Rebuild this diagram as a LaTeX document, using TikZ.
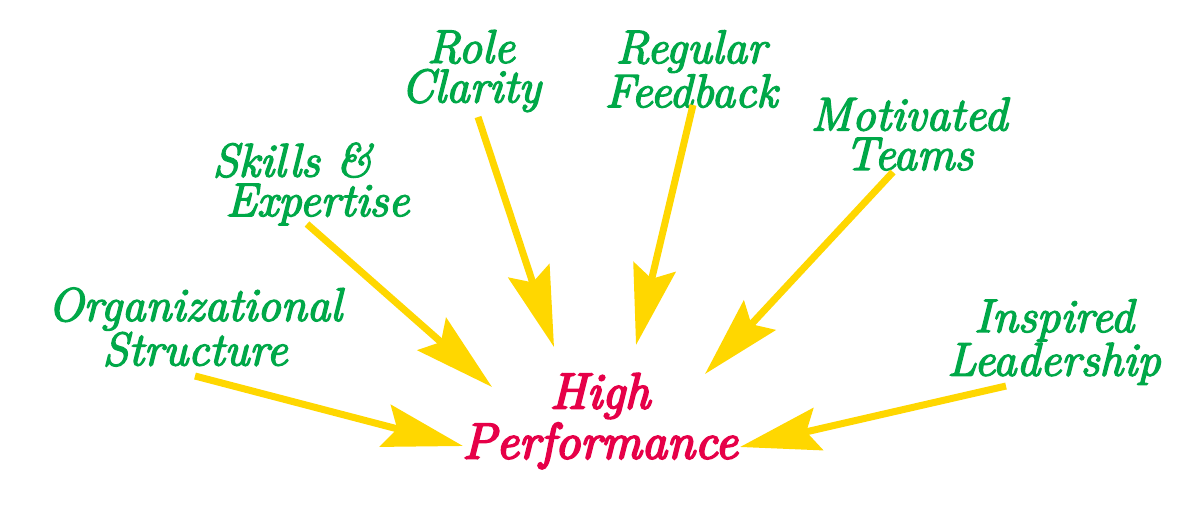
\documentclass[tikz,border=0pt]{standalone}
\usepackage{fontspec}
\newfontfamily\lblit{lmroman12-italic}[Extension=.otf,FakeBold=3.2]
\newfontfamily\hpit{lmroman12-italic}[Extension=.otf,FakeBold=4.2]
\usetikzlibrary{arrows.meta}
\definecolor{lblgreen}{RGB}{0,168,72}
\definecolor{hired}{RGB}{230,0,72}
\definecolor{gold}{RGB}{255,215,0}
\tikzset{
  lbl/.style={text=lblgreen,align=center,font=\lblit\fontsize{26.8}{22.5}\selectfont,inner sep=0pt},
  centre/.style={text=hired,align=center,font=\hpit\fontsize{28.8}{28.5}\selectfont,inner sep=0pt},
  arr/.style={draw=gold,line width=4pt,-{Stealth[length=1.6cm,width=0.86cm,inset=0.24cm,fill=gold]}}
}
\begin{document}
\begin{tikzpicture}[x=0.02cm,y=-0.02cm]
\useasboundingbox (0,0) rectangle (1200,512);
\node[centre] (hp) at (600,421) {High\\Performance};
\node[lbl] (os) at (195,327) {Organizational\\Structure};
\node[lbl,align=left] (se) at (311,184) {Skills \&\\\hspace{0.26cm}Expertise};
\node[lbl] (rc) at (471,71) {Role\\Clarity};
\node[lbl] (rf) at (691,69) {Regular\\Feedback};
\node[lbl] (mt) at (909,134) {Motivated\\Teams};
\node[lbl] (il) at (1054,342) {Inspired\\Leadership};
\coordinate (os1) at (195,376); \coordinate (os2) at (463,446);
\coordinate (se1) at (307,224); \coordinate (se2) at (492,387);
\coordinate (rc1) at (478,117); \coordinate (rc2) at (554,347);
\coordinate (rf1) at (693,105); \coordinate (rf2) at (636,345);
\coordinate (mt1) at (893,172); \coordinate (mt2) at (705,374);
\coordinate (il1) at (1006,386); \coordinate (il2) at (740,447);
\draw[arr] (os1) -- (os2);
\draw[arr] (se1) -- (se2);
\draw[arr] (rc1) -- (rc2);
\draw[arr] (rf1) -- (rf2);
\draw[arr] (mt1) -- (mt2);
\draw[arr] (il1) -- (il2);
\end{tikzpicture}
\end{document}
